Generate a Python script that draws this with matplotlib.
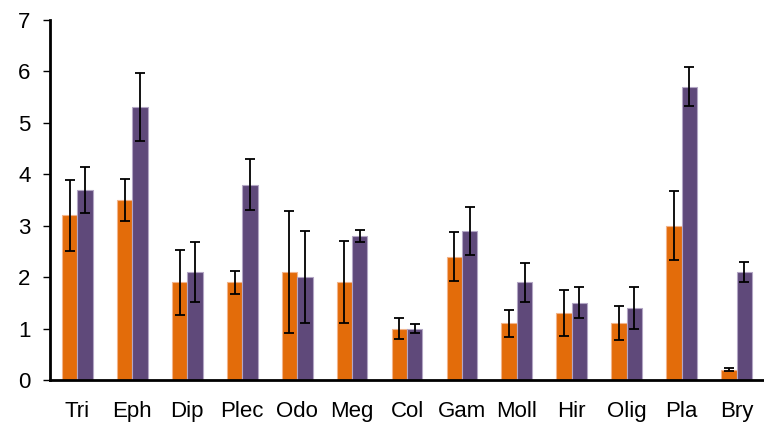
import matplotlib
matplotlib.use("Agg")
import matplotlib.pyplot as plt
import numpy as np

categories = ["Tri", "Eph", "Dip", "Plec", "Odo", "Meg", "Col", "Gam",
              "Moll", "Hir", "Olig", "Pla", "Bry"]
orange_vals = [3.2, 3.5, 1.9, 1.9, 2.1, 1.9, 1.0, 2.4, 1.1, 1.3, 1.1, 3.0, 0.2]
orange_err = [0.69, 0.41, 0.63, 0.22, 1.18, 0.80, 0.20, 0.47, 0.27, 0.45, 0.33, 0.67, 0.025]
purple_vals = [3.7, 5.3, 2.1, 3.8, 2.0, 2.8, 1.0, 2.9, 1.9, 1.5, 1.4, 5.7, 2.1]
purple_err = [0.45, 0.66, 0.58, 0.50, 0.89, 0.12, 0.08, 0.47, 0.38, 0.30, 0.40, 0.38, 0.20]
yticks = [0, 1, 2, 3, 4, 5, 6, 7]

plt.rcParams["font.family"] = ["Liberation Sans", "DejaVu Sans"]

fig = plt.figure(figsize=(7.64, 4.26), dpi=100)
ax = fig.add_axes([50 / 764, 46 / 426, 714 / 764, 360 / 426])

x = np.arange(len(categories))
w = 0.28
err_kw = dict(ecolor="black", elinewidth=1.3, capsize=3.4, capthick=1.3)
ax.bar(x - w / 2, orange_vals, w, color="#E36C0A", edgecolor="#F2B48A",
       linewidth=0.8, yerr=orange_err, error_kw=err_kw, zorder=2)
ax.bar(x + w / 2, purple_vals, w, color="#5F497A", edgecolor="#B3A6C4",
       linewidth=0.8, yerr=purple_err, error_kw=err_kw, zorder=2)

ax.set_xlim(-0.5, len(categories) - 0.5)
ax.set_ylim(0, 7)
ax.set_yticks(yticks)
ax.set_xticks(x)
ax.set_xticklabels(categories)

for s in ("top", "right"):
    ax.spines[s].set_visible(False)
ax.spines["left"].set_linewidth(2)
ax.spines["bottom"].set_linewidth(2)

ax.tick_params(axis="y", direction="out", length=5, width=1, pad=9,
               labelsize=16)
ax.tick_params(axis="x", length=0, pad=15, labelsize=16)

fig.savefig("out.png", dpi=100)
